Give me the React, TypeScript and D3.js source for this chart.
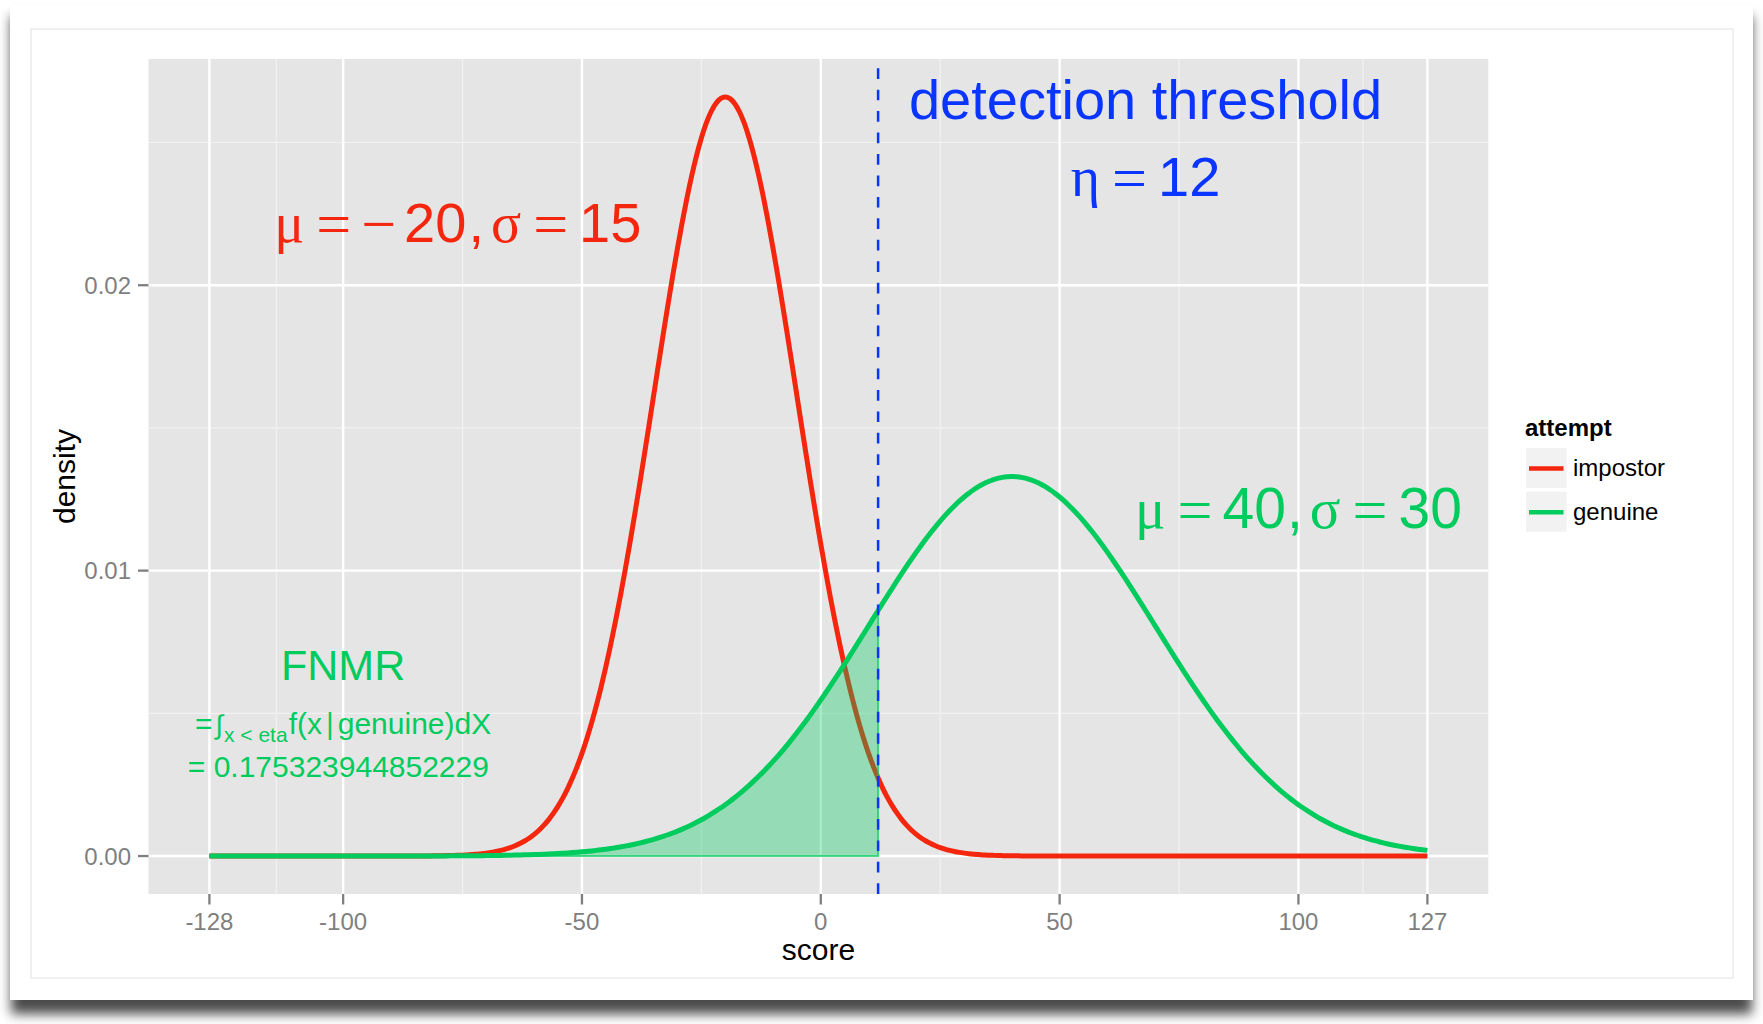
import React from 'react';
import * as d3 from 'd3';

// Score distributions of the two attempt types (normal densities)
const attempts = ['impostor', 'genuine'];
const attemptMeans = [-20, 40];
const attemptSds = [15, 30];
const attemptColors = ['#F5260E', '#00CC5E'];

// Score range, detection threshold and resulting false non-match rate
const scoreDomain = [-128, 127];
const threshold = 12;
const fnmrValue = '0.175323944852229';

// Axis breaks
const xTickValues = [-128, -100, -50, 0, 50, 100, 127];
const xTickLabels = ['-128', '-100', '-50', '0', '50', '100', '127'];
const yTickValues = [0, 0.01, 0.02];
const yTickLabels = ['0.00', '0.01', '0.02'];
const yMinorValues = [0.005, 0.015, 0.025];

const W = 1763;
const H = 1024;
const panel = { left: 148.5, right: 1488.3, top: 59, bottom: 894 };
const SANS = "'Liberation Sans', Arial, Helvetica, sans-serif";
const SERIF = "'Liberation Serif', 'Times New Roman', serif";
const BLUE = '#0A34FF';
const AXIS_GREY = '#7F7F7F';

function dnorm(v: number, mean: number, sd: number): number {
  const z = (v - mean) / sd;
  return Math.exp(-0.5 * z * z) / (sd * Math.sqrt(2 * Math.PI));
}

type Seg = { t: string; serif?: boolean; gap?: number; size?: number; dy?: number };

function MathLabel(props: { x: number; y: number; size: number; color: string; segs: Seg[] }) {
  const { x, y, size, color, segs } = props;
  return (
    <text x={x} y={y} textAnchor="middle" fontSize={size} fill={color} style={{ whiteSpace: 'pre' }}>
      {segs.map((s, i) => (
        <tspan
          key={i}
          dx={s.gap ?? 0}
          dy={s.dy ?? 0}
          fontSize={s.size ?? size}
          fontFamily={s.serif ? SERIF : SANS}
        >
          {s.t}
        </tspan>
      ))}
    </text>
  );
}

export default function App() {
  const span = scoreDomain[1] - scoreDomain[0];
  const x = d3
    .scaleLinear()
    .domain([scoreDomain[0] - 0.05 * span, scoreDomain[1] + 0.05 * span])
    .range([panel.left, panel.right]);

  const peak = d3.max(attemptSds.map((sd, i) => dnorm(attemptMeans[i], attemptMeans[i], sd))) as number;
  const y = d3
    .scaleLinear()
    .domain([-0.05 * peak, 1.05 * peak])
    .range([panel.bottom, panel.top]);

  // densities evaluated at every integer score
  const grid = d3.range(scoreDomain[0], scoreDomain[1] + 1, 1);
  const curves = attempts.map((_, k) =>
    grid.map((v) => [v, dnorm(v, attemptMeans[k], attemptSds[k])] as [number, number])
  );

  const line = d3
    .line<[number, number]>()
    .x((d) => x(d[0]))
    .y((d) => y(d[1]))
    .curve(d3.curveCatmullRom);

  // genuine density below the threshold -> false non-matches
  const gIdx = attempts.indexOf('genuine');
  const areaPts = d3
    .range(scoreDomain[0], threshold + 1, 1)
    .map((v) => [v, dnorm(v, attemptMeans[gIdx], attemptSds[gIdx])] as [number, number]);
  const area = d3
    .area<[number, number]>()
    .x((d) => x(d[0]))
    .y0(y(0))
    .y1((d) => y(d[1]));

  const xMinor = xTickValues.slice(1).map((v, i) => (v + xTickValues[i]) / 2);

  const redC = attemptColors[0];
  const greenC = attemptColors[1];
  const EQ = 62; // operator glyph size
  const OP = 3; // operator baseline drop

  return (
    <svg
      width={W}
      height={H}
      style={{ position: 'absolute', left: 0, top: 0, display: 'block' }}
      fontFamily={SANS}
    >
      <defs>
        <filter id="cardShadow" x="-5%" y="-5%" width="110%" height="115%">
          <feGaussianBlur stdDeviation="6" />
        </filter>
      </defs>

      {/* page and card */}
      <rect x={0} y={0} width={W} height={H} fill="#ffffff" />
      <rect x={11} y={16} width={1741} height={998} fill="#000" opacity={0.7} filter="url(#cardShadow)" />
      <rect x={10} y={5} width={1743} height={995} fill="#ffffff" />
      <rect x={31} y={29} width={1702} height={949} fill="none" stroke="#ececec" strokeWidth={1.5} />

      {/* panel */}
      <rect
        x={panel.left}
        y={panel.top}
        width={panel.right - panel.left}
        height={panel.bottom - panel.top}
        fill="#E5E5E5"
      />
      {xMinor.map((v) => (
        <line key={'xm' + v} x1={x(v)} x2={x(v)} y1={panel.top} y2={panel.bottom} stroke="#F2F2F2" strokeWidth={1.2} />
      ))}
      {yMinorValues.map((v) => (
        <line key={'ym' + v} x1={panel.left} x2={panel.right} y1={y(v)} y2={y(v)} stroke="#F2F2F2" strokeWidth={1.2} />
      ))}
      {xTickValues.map((v) => (
        <line key={'xg' + v} x1={x(v)} x2={x(v)} y1={panel.top} y2={panel.bottom} stroke="#ffffff" strokeWidth={2.4} />
      ))}
      {yTickValues.map((v) => (
        <line key={'yg' + v} x1={panel.left} x2={panel.right} y1={y(v)} y2={y(v)} stroke="#ffffff" strokeWidth={2.4} />
      ))}

      {/* density curves */}
      {curves.map((c, k) => (
        <path key={attempts[k]} d={line(c) as string} fill="none" stroke={attemptColors[k]} strokeWidth={5} />
      ))}

      {/* FNMR region */}
      <path
        d={area(areaPts) as string}
        fill={greenC}
        fillOpacity={0.35}
        stroke={greenC}
        strokeOpacity={0.7}
        strokeWidth={2}
      />

      {/* threshold */}
      <line
        x1={x(threshold)}
        x2={x(threshold)}
        y1={panel.bottom}
        y2={panel.top}
        stroke={BLUE}
        strokeWidth={2.5}
        strokeDasharray="10.7 10.75"
      />

      {/* annotations */}
      <text x={x(68)} y={y(0.02582)} textAnchor="middle" fontSize={56} fill={BLUE}>
        detection threshold
      </text>
      <MathLabel
        x={x(68)}
        y={y(0.02311)}
        size={56}
        color={BLUE}
        segs={[
          { t: 'η', serif: true },
          { t: '=', serif: true, size: EQ, gap: 12, dy: OP },
          { t: String(threshold), gap: 11, dy: -OP },
        ]}
      />
      <MathLabel
        x={x(-76)}
        y={y(0.0215)}
        size={56}
        color={redC}
        segs={[
          { t: 'μ', serif: true },
          { t: '=', serif: true, size: EQ, gap: 12, dy: OP },
          { t: '−', serif: true, size: EQ, gap: 10 },
          { t: String(Math.abs(attemptMeans[0])), gap: 8, dy: -OP },
          { t: ',', gap: 2 },
          { t: 'σ', serif: true, gap: 7 },
          { t: '=', serif: true, size: EQ, gap: 12, dy: OP },
          { t: String(attemptSds[0]), gap: 11, dy: -OP },
        ]}
      />
      <MathLabel
        x={x(100)}
        y={y(0.0115)}
        size={57}
        color={greenC}
        segs={[
          { t: 'μ', serif: true },
          { t: '=', serif: true, size: EQ, gap: 12, dy: OP },
          { t: String(attemptMeans[1]), gap: 10, dy: -OP },
          { t: ',', gap: 1 },
          { t: 'σ', serif: true, gap: 7 },
          { t: '=', serif: true, size: EQ, gap: 12, dy: OP },
          { t: String(attemptSds[1]), gap: 11, dy: -OP },
        ]}
      />
      <text x={x(-100)} y={y(0.006166)} textAnchor="middle" fontSize={43} fill={greenC}>
        FNMR
      </text>
      <MathLabel
        x={x(-100)}
        y={y(0.004265)}
        size={30}
        color={greenC}
        segs={[
          { t: '=' },
          { t: '∫', gap: 3, size: 27 },
          { t: 'x < eta', size: 21, dy: 8, gap: 1 },
          { t: 'f(x', dy: -8, gap: 1 },
          { t: '|', gap: 4 },
          { t: 'genuine)dX', gap: 4 },
        ]}
      />
      <text x={x(-101)} y={y(0.002784)} textAnchor="middle" fontSize={30} fill={greenC}>
        {'= ' + fnmrValue}
      </text>

      {/* x axis */}
      {xTickValues.map((v, i) => (
        <g key={'xt' + v}>
          <line x1={x(v)} x2={x(v)} y1={panel.bottom} y2={panel.bottom + 10.5} stroke={AXIS_GREY} strokeWidth={2.3} />
          <text x={x(v)} y={930} textAnchor="middle" fontSize={24} fill={AXIS_GREY}>
            {xTickLabels[i]}
          </text>
        </g>
      ))}
      <text x={(panel.left + panel.right) / 2} y={959.5} textAnchor="middle" fontSize={30} fill="#000">
        score
      </text>

      {/* y axis */}
      {yTickValues.map((v, i) => (
        <g key={'yt' + v}>
          <line x1={panel.left - 10.5} x2={panel.left} y1={y(v)} y2={y(v)} stroke={AXIS_GREY} strokeWidth={2.3} />
          <text x={131} y={y(v) + 8.6} textAnchor="end" fontSize={24} fill={AXIS_GREY}>
            {yTickLabels[i]}
          </text>
        </g>
      ))}
      <text
        transform={`translate(75.4, ${(panel.top + panel.bottom) / 2}) rotate(-90)`}
        textAnchor="middle"
        fontSize={30}
        fill="#000"
      >
        density
      </text>

      {/* legend */}
      <text x={1525} y={436} fontSize={24} fontWeight="bold" fill="#000">
        attempt
      </text>
      {attempts.map((name, k) => {
        const top = 448 + k * 43.7;
        return (
          <g key={'lg' + name}>
            <rect x={1526} y={top} width={40.7} height={40} fill="#F2F2F2" />
            <line x1={1529} x2={1563.5} y1={top + 20.5} y2={top + 20.5} stroke={attemptColors[k]} strokeWidth={4.5} />
            <text x={1573} y={top + 28} fontSize={24} fill="#000">
              {name}
            </text>
          </g>
        );
      })}
    </svg>
  );
}
